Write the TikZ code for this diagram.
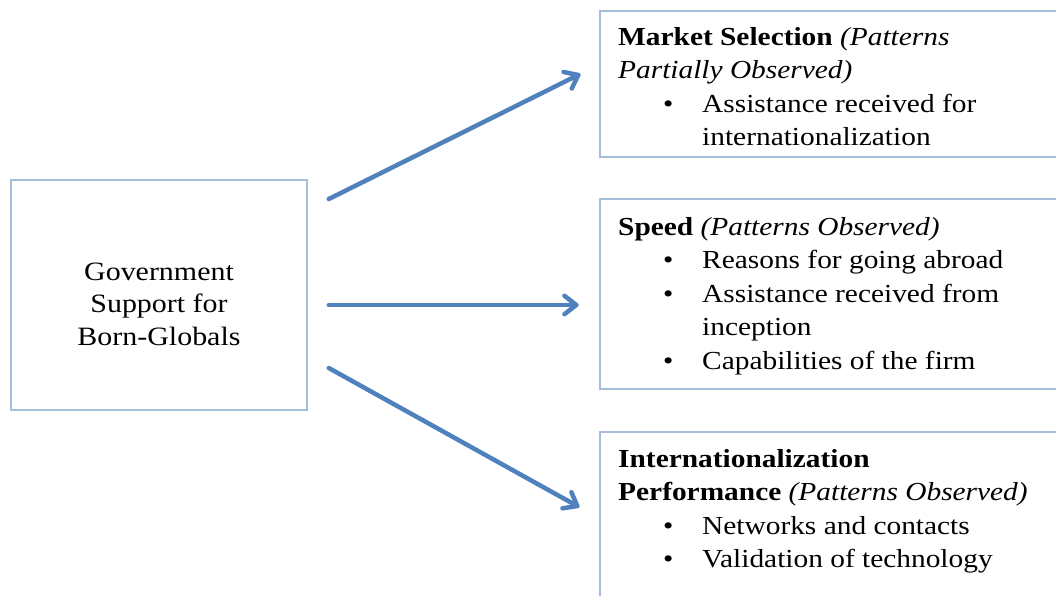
\documentclass[tikz,border=0pt]{standalone}
\usepackage{fontspec}
\setmainfont{Liberation Serif}[FakeStretch=1.13]
\usetikzlibrary{calc}
\definecolor{boxline}{HTML}{A5BEDC}
\definecolor{arrowblue}{HTML}{4F81BD}
% bullet lead-in and continuation indent for the list lines
\newcommand\itembul{\hspace*{45pt}\makebox[39pt][l]{\textbullet}}
\newcommand\itemcont{\hspace*{84pt}}
\begin{document}
\begin{tikzpicture}[x=1pt,y=-1pt,
  panel/.style={draw=boxline,line width=1.5pt,fill=white,inner sep=0pt},
  flow/.style={draw=arrowblue,line width=4.5pt,line cap=round,line join=round},
  body/.style={inner sep=0pt,anchor=base west,font=\fontsize{26}{33.5}\selectfont}]
\useasboundingbox (0,0) rectangle (1056,595);

% left box
\node[panel,minimum width=296pt,minimum height=230pt] (gov) at (159,295) {};
\node[inner sep=0pt,anchor=base,font=\fontsize{26.5}{32.5}\selectfont] (govtext) at (159,280)
  {\parbox[t]{260pt}{\centering Government\\Support for\\Born-Globals}};

% right boxes (running off the right and bottom edges)
\node[panel,minimum width=480pt,minimum height=146pt] (ms) at (840,84) {};
\node[panel,minimum width=480pt,minimum height=190pt] (sp) at (840,294) {};
\node[panel,minimum width=480pt,minimum height=188pt] (ip) at (840,526) {};

\node[body] (mstext) at (618,45) {\parbox[t]{430pt}{%
  \textbf{Market Selection} \textit{(Patterns}\\
  \textit{Partially Observed)}\\
  \itembul Assistance received for\\
  \itemcont internationalization}};

\node[body] (sptext) at (618,235) {\parbox[t]{430pt}{%
  \textbf{Speed} \textit{(Patterns Observed)}\\
  \itembul Reasons for going abroad\\
  \itembul Assistance received from\\
  \itemcont inception\\
  \itembul Capabilities of the firm}};

\node[body] (iptext) at (618,467) {\parbox[t]{430pt}{%
  \textbf{Internationalization}\\
  \textbf{Performance} \textit{(Patterns Observed)}\\
  \itembul Networks and contacts\\
  \itembul Validation of technology}};

% arrow ends, just clear of the boxes
\coordinate (s1) at ($(gov.east)+(21,-96)$);
\coordinate (t1) at ($(ms.west)+(-21,-9)$);
\coordinate (s2) at ($(gov.east)+(21,10)$);
\coordinate (t2) at ($(sp.west)+(-23,11)$);
\coordinate (s3) at ($(gov.east)+(21,73)$);
\coordinate (t3) at ($(ip.west)+(-22,-20)$);

% shafts with open heads
\foreach \i in {1,2,3}{
  \draw[flow] (s\i) -- (t\i);
  \draw[flow] ($(t\i)!15pt!38:(s\i)$) -- (t\i) -- ($(t\i)!15pt!-38:(s\i)$);
}
\end{tikzpicture}
\end{document}
